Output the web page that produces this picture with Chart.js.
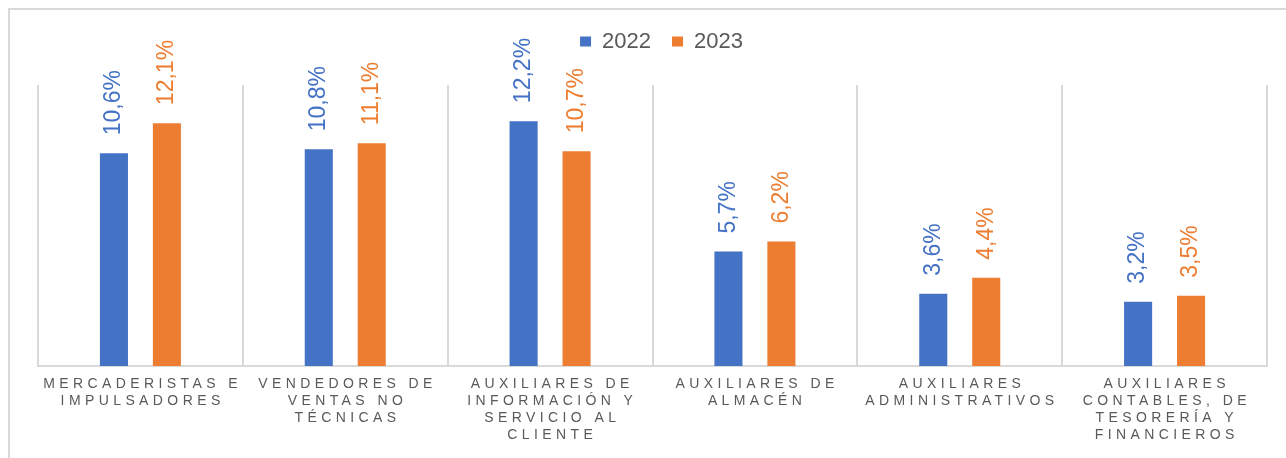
<!DOCTYPE html>
<html>
<head>
<meta charset="utf-8">
<script src="https://cdn.jsdelivr.net/npm/chart.js@4/dist/chart.umd.min.js"></script>
<style>
  html, body { margin: 0; padding: 0; background: #ffffff; }
  #wrap { position: relative; width: 1286px; height: 458px; overflow: hidden; }
  #frame { position: absolute; left: 8px; top: 8px; width: 1300px; height: 470px;
           border-left: 2px solid #d9d9d9; border-top: 2px solid #d9d9d9; }
  #c { position: absolute; left: 0; top: 0; }
</style>
</head>
<body>
<div id="wrap">
  <div id="frame"></div>
  <canvas id="c" width="1286" height="458"></canvas>
</div>
<script>
const categories = [
  ["MERCADERISTAS E", "IMPULSADORES"],
  ["VENDEDORES DE", "VENTAS NO", "TÉCNICAS"],
  ["AUXILIARES DE", "INFORMACIÓN Y", "SERVICIO AL", "CLIENTE"],
  ["AUXILIARES DE", "ALMACÉN"],
  ["AUXILIARES", "ADMINISTRATIVOS"],
  ["AUXILIARES", "CONTABLES, DE", "TESORERÍA Y", "FINANCIEROS"]
];
const seriesNames = ["2022", "2023"];
const values2022 = [10.6, 10.8, 12.2, 5.7, 3.6, 3.2];
const values2023 = [12.1, 11.1, 10.7, 6.2, 4.4, 3.5];
const colors = ["#4472C4", "#ED7D31"];

const FONT = "'Liberation Sans', Arial, Helvetica, sans-serif";

const legendSpacer = {
  id: 'legendSpacer',
  beforeInit(chart) {
    const lg = chart.legend;
    const origFit = lg.fit;
    lg.fit = function () { origFit.call(this); this.height += 22.5; };
    const origDraw = lg.draw;
    lg.draw = function () { const c = this.ctx; c.save(); c.translate(9, 0); origDraw.call(this); c.restore(); };
  }
};

const valueLabels = {
  id: 'valueLabels',
  afterDatasetsDraw(chart) {
    const ctx = chart.ctx;
    chart.data.datasets.forEach((ds, di) => {
      const meta = chart.getDatasetMeta(di);
      meta.data.forEach((bar, i) => {
        const txt = ds.data[i].toFixed(1).replace('.', ',') + '%';
        ctx.save();
        ctx.translate(bar.x, bar.y - 18);
        ctx.rotate(-Math.PI / 2);
        ctx.font = "23px " + FONT;
        ctx.fillStyle = ds.backgroundColor;
        ctx.textAlign = 'left';
        ctx.textBaseline = 'middle';
        ctx.fillText(txt, 0, 0);
        ctx.restore();
      });
    });
  }
};

const catLabels = {
  id: 'catLabels',
  afterDraw(chart) {
    const ctx = chart.ctx;
    const xs = chart.scales.x;
    const base = chart.chartArea.bottom;
    ctx.save();
    ctx.font = "14px " + FONT;
    ctx.letterSpacing = '4.4px';
    ctx.fillStyle = '#595959';
    ctx.textAlign = 'center';
    ctx.textBaseline = 'middle';
    categories.forEach((lines, i) => {
      const cx = xs.getPixelForValue(i) + 2.2;
      lines.forEach((ln, k) => {
        ctx.fillText(ln, cx, base + 18.5 + k * 16.8);
      });
    });
    ctx.restore();
  }
};

new Chart(document.getElementById('c'), {
  type: 'bar',
  data: {
    labels: categories.map(c => c.join(' ')),
    datasets: [
      { label: seriesNames[0], data: values2022, backgroundColor: colors[0],
        categoryPercentage: 0.517, barPercentage: 0.53 },
      { label: seriesNames[1], data: values2023, backgroundColor: colors[1],
        categoryPercentage: 0.517, barPercentage: 0.53 }
    ]
  },
  options: {
    responsive: false,
    animation: false,
    devicePixelRatio: 1,
    layout: { padding: { left: 38, right: 19, top: 9.5, bottom: 92 } },
    plugins: {
      legend: {
        position: 'top',
        labels: {
          boxWidth: 11, boxHeight: 10, padding: 21,
          color: '#595959',
          font: { family: FONT, size: 22 }
        }
      },
      tooltip: { enabled: false },
      title: { display: false }
    },
    scales: {
      x: {
        offset: true,
        grid: { display: true, offset: true, color: '#d9d9d9', lineWidth: 2, drawTicks: false },
        border: { display: true, color: '#d9d9d9', width: 2 },
        ticks: { display: false }
      },
      y: {
        display: false,
        min: 0, max: 14,
        grid: { display: false }
      }
    }
  },
  plugins: [legendSpacer, valueLabels, catLabels]
});
</script>
</body>
</html>
